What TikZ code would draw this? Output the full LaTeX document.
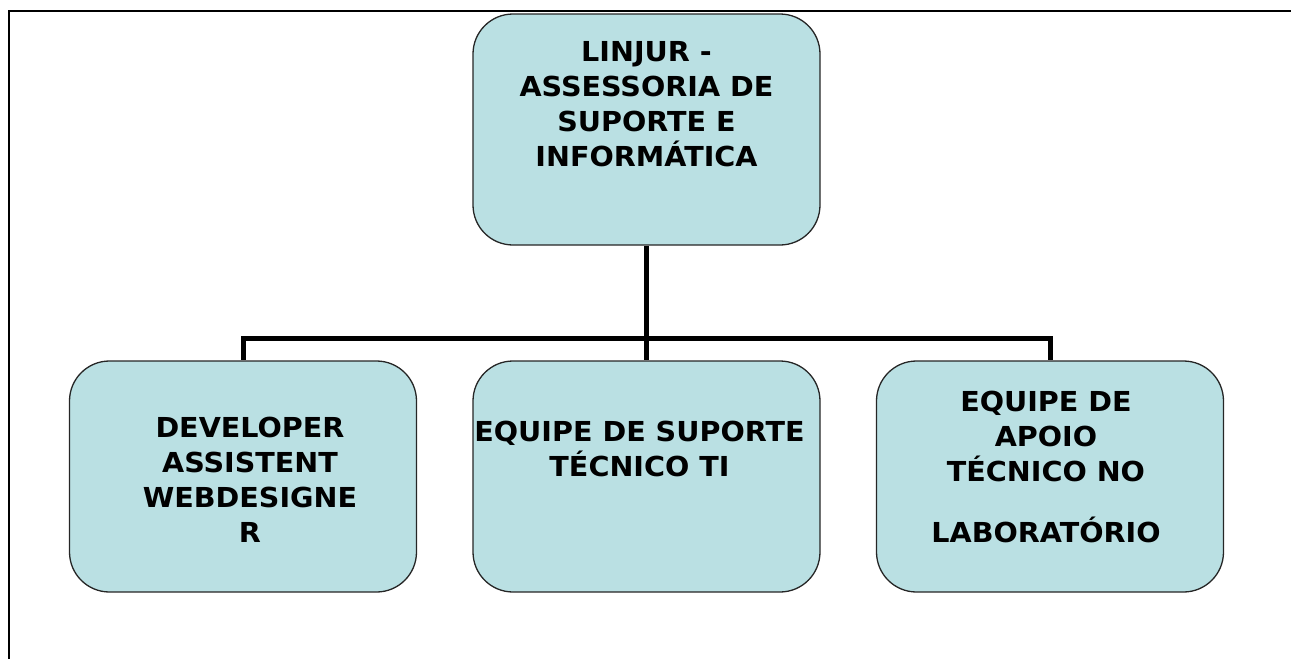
\documentclass[tikz,border=0pt]{standalone}
\usepackage{fontspec}
\setmainfont[FakeStretch=1.04]{DejaVu Sans}
\definecolor{boxfill}{RGB}{186,224,227}
\tikzset{
  unit/.style={draw=black!85, line width=1.3pt, fill=boxfill, rounded corners=40pt,
    minimum width=347pt, minimum height=231pt, inner sep=0pt},
  unittext/.style={anchor=north, align=center, inner sep=0pt,
    font=\fontsize{27.5}{35}\selectfont\bfseries},
  link/.style={line width=5pt}
}
\begin{document}
\begin{tikzpicture}[x=1pt, y=-1pt]
\useasboundingbox (0,0) rectangle (1291,659);
\draw[line width=1.3pt] (1291,11) -- (9,11) -- (9,659);

% boxes
\node[unit] (linjur) at (646.5,129.5) {};
\node[unit] (dev) at (243,476.5) {};
\node[unit] (suporte) at (646.5,476.5) {};
\node[unit] (apoio) at (1050,476.5) {};

% texts
\node[unittext] (linjur-t) at ([yshift=-28pt]linjur.north)
  {LINJUR -\\ASSESSORIA DE\\SUPORTE E\\INFORMÁTICA};
\node[unittext] (dev-t) at ([xshift=7pt, yshift=-57pt]dev.north)
  {DEVELOPER\\ASSISTENT\\WEBDESIGNE\\R};
\node[unittext] (suporte-t) at ([xshift=-7pt, yshift=-61pt]suporte.north)
  {EQUIPE DE SUPORTE\\TÉCNICO TI};
\node[unittext] (apoio-t) at ([xshift=-4pt, yshift=-31pt]apoio.north)
  {EQUIPE DE\\APOIO\\TÉCNICO NO\\[26pt]LABORATÓRIO};

% links
\coordinate (bar) at (646.5,338);
\draw[link] (linjur.south) -- (bar) -| (dev.north);
\draw[link] (bar) -| (apoio.north);
\draw[link] (bar) -- (suporte.north);
\end{tikzpicture}
\end{document}
